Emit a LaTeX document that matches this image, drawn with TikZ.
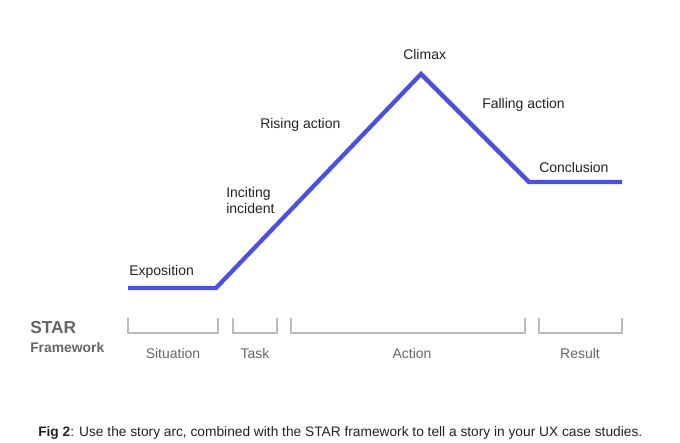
\documentclass[tikz,border=0pt]{standalone}
\usepackage{fontspec}
\setmainfont{Liberation Sans}
\usetikzlibrary{positioning}
\definecolor{arcblue}{HTML}{4B50DE}
\definecolor{textdark}{HTML}{222222}
\definecolor{framegray}{HTML}{BBBBBB}
\definecolor{labelgray}{HTML}{666666}

\begin{document}
\begin{tikzpicture}[
    x=0.75pt, y=-0.75pt,
    font=\fontsize{10.5}{12}\selectfont,
    arcline/.style={draw=arcblue, line width=3.2pt, line join=miter},
    stage/.style={text=textdark, inner sep=0pt, align=left},
    bracket/.style={draw=framegray, line width=0.9pt},
    phase/.style={text=labelgray, inner sep=0pt}
]
\useasboundingbox (0,0) rectangle (680,442);

% story arc
\coordinate (start) at (128,288);
\coordinate (incite) at (216,288);
\coordinate (peak) at (421,74);
\coordinate (settle) at (529,182);
\coordinate (finish) at (622,182);
\draw[arcline] (start) -- (incite) -- (peak) -- (settle) -- (finish);

\node[stage, anchor=west] (expo) at (129,272) {Exposition};
\node[stage, anchor=west] (inciting) at (226,200) {Inciting\\incident};
\node[stage, anchor=west] (rising) at (260,125) {Rising action};
\node[stage, anchor=west] (climax) at (403,54) {Climax};
\node[stage, anchor=west] (falling) at (482,105) {Falling action};
\node[stage, anchor=west] (concl) at (539,167) {Conclusion};

% STAR framework
\node[text=labelgray, inner sep=0pt, anchor=west, font=\fontsize{13}{15}\selectfont\bfseries] (star) at (30,328) {STAR};
\node[text=labelgray, inner sep=0pt, anchor=west, font=\fontsize{10.4}{12}\selectfont\bfseries] (frame) at (30,348) {Framework};

\draw[bracket] (128,318) |- (218,333) -- (218,318);
\draw[bracket] (233,318) |- (277,333) -- (277,318);
\draw[bracket] (291,318) |- (525,333) -- (525,318);
\draw[bracket] (539,318) |- (622,333) -- (622,318);

\node[phase] (situation) at (173,353) {Situation};
\node[phase] (task) at (255,353) {Task};
\node[phase] (action) at (412,353) {Action};
\node[phase] (result) at (580,353) {Result};

% caption
\node[text=textdark, inner sep=0pt, anchor=west, font=\fontsize{10.3}{12}\selectfont] (caption) at (38,433) {\textbf{Fig 2}: Use the story arc, combined with the STAR framework to tell a story in your UX case studies.};
\end{tikzpicture}
\end{document}
